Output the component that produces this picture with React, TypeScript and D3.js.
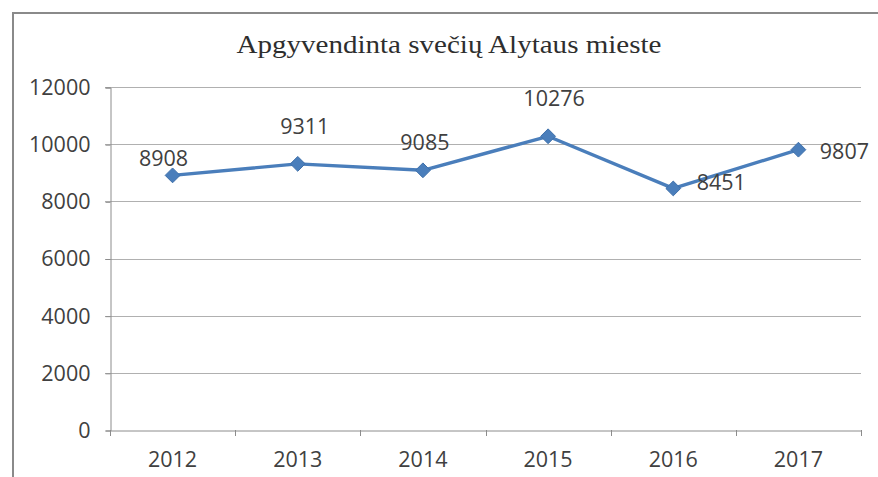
import * as d3 from "d3";
import {useEffect, useRef} from "react";

const years = ["2012", "2013", "2014", "2015", "2016", "2017"];
const guests = [8908, 9311, 9085, 10276, 8451, 9807];
const yTicks = [0, 2000, 4000, 6000, 8000, 10000, 12000];
const title = "Apgyvendinta svečių Alytaus mieste";

// hand placed label offsets (label centre vs. point), like in the original
const labelDx = [-9, 7, 2, 6, 48, 46];
const labelDy = [-17, -37, -28, -38, -6, 2];

const W = 878;
const H = 477;

const App = () => {
    const ref = useRef(null);

    useEffect(() => {
        const svg = d3.select(ref.current);
        svg.selectAll("*").remove();

        const margin = {top: 87, bottom: 47, left: 110, right: 17};
        const font = "'Open Sans', sans-serif";
        const fontSize = 21.5;
        const textColor = "#404040";

        const x = d3.scaleBand()
            .domain(years)
            .range([margin.left, W - margin.right]);

        const y = d3.scaleLinear()
            .domain([0, 12000])
            .range([H - margin.bottom, margin.top]);

        svg.append("rect")
            .attr("width", W)
            .attr("height", H)
            .attr("fill", "#fff");

        // chart frame
        svg.append("rect")
            .attr("x", 13)
            .attr("y", 13)
            .attr("width", W)
            .attr("height", H)
            .attr("fill", "none")
            .attr("stroke", "#8a8a8a")
            .attr("stroke-width", 2);

        svg.append("text")
            .attr("x", 449)
            .attr("y", 53)
            .attr("text-anchor", "middle")
            .attr("font-family", "'Liberation Serif', serif")
            .attr("font-size", 25)
            .attr("textLength", 425)
            .attr("lengthAdjust", "spacingAndGlyphs")
            .attr("fill", "#2e2e2e")
            .text(title);

        // gridlines
        svg.append("g")
            .selectAll("line")
            .data(yTicks.filter(d => d > 0))
            .enter()
            .append("line")
            .attr("x1", margin.left - 5)
            .attr("x2", W - margin.right)
            .attr("y1", d => Math.round(y(d)) + 0.5)
            .attr("y2", d => Math.round(y(d)) + 0.5)
            .attr("stroke", "#b0b0b0")
            .attr("stroke-width", 1);

        const yAxis = d3.axisLeft(y)
            .tickValues(yTicks)
            .tickFormat(d3.format("d"))
            .tickSize(5)
            .tickPadding(15);
        const gy = svg.append("g")
            .attr("transform", `translate(${margin.left + 0.5}, 0.5)`)
            .call(yAxis);
        gy.select(".domain").attr("stroke", "#8c8c8c");
        gy.selectAll(".tick line").attr("stroke", "#8c8c8c");
        gy.selectAll("text")
            .attr("font-family", font)
            .attr("font-size", fontSize)
            .attr("fill", textColor);

        const xAxis = d3.axisBottom(x).tickSize(0).tickPadding(21);
        const gx = svg.append("g")
            .attr("transform", `translate(0, ${Math.round(y(0)) + 0.5})`)
            .call(xAxis);
        gx.select(".domain").attr("stroke", "#8c8c8c");
        gx.selectAll("text")
            .attr("font-family", font)
            .attr("font-size", fontSize)
            .attr("fill", textColor);

        // category boundary ticks
        const edges = [...years.map(d => x(d)), x(years[years.length - 1]) + x.bandwidth()];
        svg.append("g")
            .selectAll("line")
            .data(edges)
            .enter()
            .append("line")
            .attr("x1", d => Math.round(d) + 0.5)
            .attr("x2", d => Math.round(d) + 0.5)
            .attr("y1", Math.round(y(0)))
            .attr("y2", Math.round(y(0)) + 6)
            .attr("stroke", "#8c8c8c");

        const cx = (i) => x(years[i]) + x.bandwidth() / 2;

        const line = d3.line()
            .x((d, i) => cx(i))
            .y(d => y(d));

        svg.append("path")
            .datum(guests)
            .attr("d", line)
            .attr("fill", "none")
            .attr("stroke", "#4a7ebb")
            .attr("stroke-width", 3.4)
            .attr("stroke-linejoin", "round");

        const diamond = d3.symbol().type(d3.symbolDiamond2).size(140);
        svg.append("g")
            .selectAll("path")
            .data(guests)
            .enter()
            .append("path")
            .attr("d", diamond)
            .attr("transform", (d, i) => `translate(${cx(i)}, ${y(d)})`)
            .attr("fill", "#4a7ebb")
            .attr("stroke", "#3f70aa")
            .attr("stroke-width", 1);

        svg.append("g")
            .selectAll("text")
            .data(guests)
            .enter()
            .append("text")
            .attr("x", (d, i) => cx(i) + labelDx[i])
            .attr("y", (d, i) => y(d) + labelDy[i])
            .attr("dy", "0.35em")
            .attr("text-anchor", "middle")
            .attr("font-family", font)
            .attr("font-size", fontSize)
            .attr("fill", textColor)
            .text(d => d);
    }, []);

    return (
        <svg ref={ref} width={W} height={H}
             style={{position: "absolute", left: 0, top: 0, display: "block"}}></svg>
    );
};

export default App;
